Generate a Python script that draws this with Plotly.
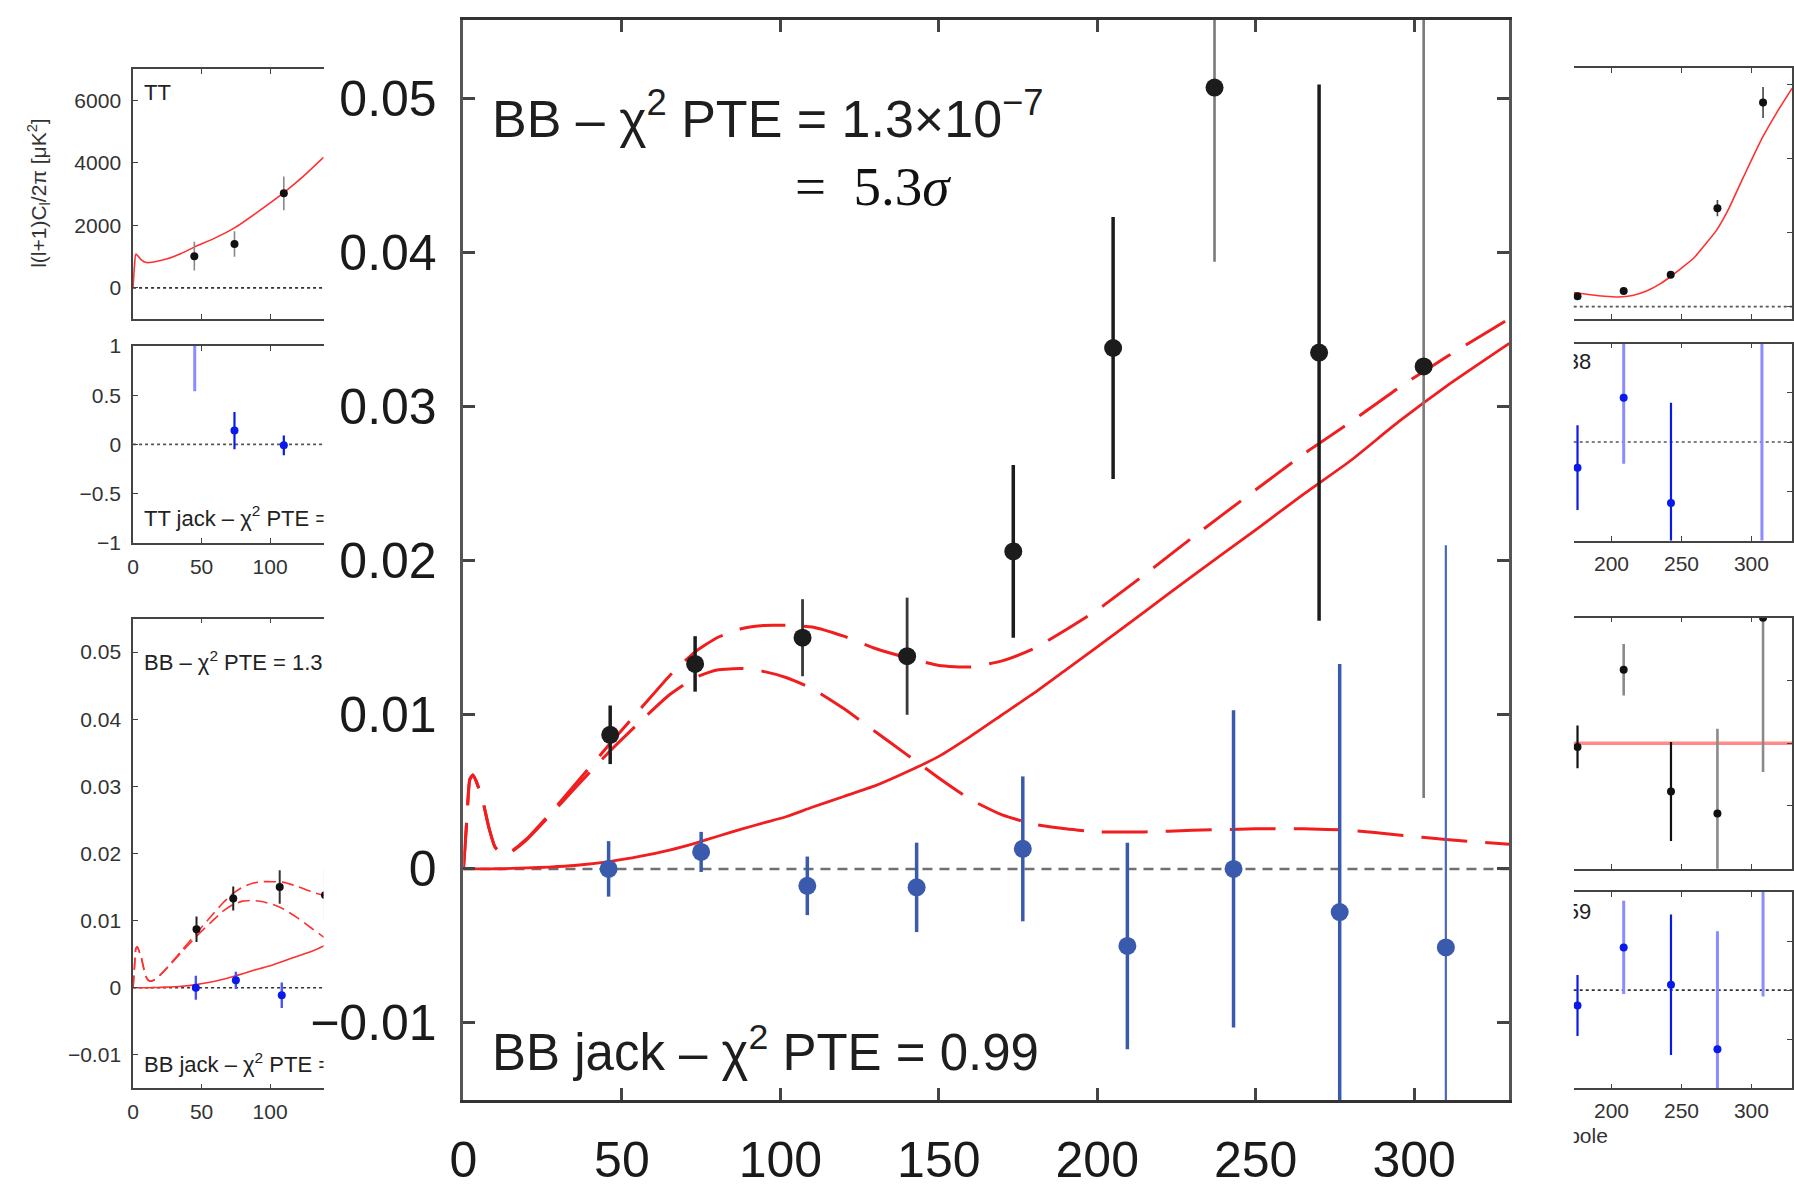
import plotly.graph_objects as go

W, H = 1794, 1188
SANS = "Liberation Sans, Arial, Helvetica, sans-serif"
SERIF = "Liberation Serif, DejaVu Serif, serif"

# ---------------- BB bandpowers (main panel and small BB panel) ----------------
bb_ell = [46.3, 73.1, 107.0, 140.0, 173.5, 205.0, 237.0, 270.0, 303.0]
bb_val = [0.0087, 0.0133, 0.0150, 0.0138, 0.0206, 0.0338, 0.0507, 0.0335, 0.0326]
bb_err = [0.0019, 0.0018, 0.0025, 0.0038, 0.0056, 0.0085, 0.0113, 0.0174, 0.0280]
bb_shade = ["dark", "dark", "mid", "mid", "dark", "dark", "light", "dark", "light"]

bbj_ell = [45.8, 75.0, 108.5, 143.0, 176.5, 209.5, 243.0, 276.5, 310.0]
bbj_val = [0.0000, 0.0011, -0.0011, -0.0012, 0.0013, -0.0050, 0.0000, -0.0028, -0.0051]
bbj_err = [0.0018, 0.0013, 0.0019, 0.0029, 0.0047, 0.0067, 0.0103, 0.0161, 0.0261]
bbj_shade = ["dark", "dark", "dark", "dark", "dark", "dark", "dark", "dark", "light"]

# ---------------- BB model spectra ----------------
model_ell = [0, 1, 2, 3, 4, 6, 8, 10, 12, 15, 20, 27, 35, 46, 56, 65, 73, 80, 88, 95,
             102, 110, 120, 130, 140, 150, 160, 170, 180, 190, 200, 215, 230, 250,
             265, 280, 295, 310, 330]
lensing_bb = [0, 0, 0, 0, 0, 0, 0, 0.00001, 0.00001, 0.00003, 0.00006, 0.00012, 0.00022,
              0.00047, 0.00082, 0.00122, 0.00166, 0.0021, 0.0026, 0.0030, 0.0034, 0.0040,
              0.0047, 0.0054, 0.0063, 0.0073, 0.0086, 0.0100, 0.0114, 0.0129, 0.0144,
              0.0167, 0.0190, 0.0220, 0.0243, 0.0265, 0.0290, 0.0313, 0.0341]
tensor_bb = [0, 0.0030, 0.0058, 0.0061, 0.0057, 0.0045, 0.0027, 0.0014, 0.0010, 0.0011,
             0.0019, 0.0034, 0.0052, 0.0076, 0.0096, 0.0113, 0.0124, 0.0129, 0.0130, 0.0128,
             0.0124, 0.0117, 0.0104, 0.0089, 0.0074, 0.0059, 0.0045, 0.0035, 0.0029, 0.0026,
             0.0024, 0.0024, 0.0025, 0.0026, 0.0026, 0.0025, 0.0022, 0.0019, 0.0016]
total_bb = [0, 0.0030, 0.0058, 0.0061, 0.0057, 0.0045, 0.0027, 0.00141, 0.00101, 0.00113,
            0.00196, 0.00352, 0.00542, 0.00807, 0.01042, 0.01252, 0.01406, 0.0150, 0.0156,
            0.0158, 0.0158, 0.0157, 0.0151, 0.0143, 0.0137, 0.0132, 0.0131, 0.0135, 0.0143,
            0.0155, 0.0168, 0.0191, 0.0215, 0.0246, 0.0269, 0.0290, 0.0312, 0.0332, 0.0357]

# ---------------- TT panel ----------------
tt_ell = [44.7, 74.0, 110.0]
tt_val = [1015, 1406, 3027]
tt_err = [460, 410, 540]
tt_model_ell = [0, 1, 2, 4, 6, 9.7, 15, 25, 35, 44.7, 60, 74, 90, 110, 125, 139]
tt_model = [0, 700, 1080, 1000, 900, 812, 830, 930, 1100, 1305, 1600, 1920, 2400, 3046, 3600, 4175]

ttj_ell = [45.0, 74.0, 110.0]
ttj_val = [1.40, 0.14, -0.01]
ttj_err = [0.86, 0.19, 0.10]
ttj_shade = ["light", "dark", "dark"]

# ---------------- EE panel ----------------
ee_ell = [175.7, 208.7, 242.3, 275.7, 308.3]
ee_val = [0.14, 0.21, 0.43, 1.33, 2.76]
ee_err = [0.03, 0.03, 0.04, 0.11, 0.21]
ee_model_ell = [173, 185, 195, 205, 215, 225, 235, 242.5, 250, 259, 267, 275, 284, 292,
                300, 308, 318, 329]
ee_model = [0.19, 0.16, 0.14, 0.13, 0.15, 0.21, 0.31, 0.41, 0.52, 0.66, 0.84, 1.03, 1.33,
            1.66, 1.98, 2.29, 2.62, 2.95]

eej_ell = [175.7, 208.7, 242.5, 307.5]
eej_val = [-0.26, 0.45, -0.62, -1.60]
eej_err = [0.43, 0.67, 1.02, 3.00]
eej_shade = ["dark", "light", "dark", "light"]

# ---------------- TB panel ----------------
tb_ell = [175.7, 208.7, 242.5, 275.7, 308.3]
tb_val = [-0.06, 1.17, -0.77, -1.12, 2.00]
tb_err = [0.34, 0.41, 0.79, 1.35, 2.46]
tb_shade = ["dark", "light", "dark", "light", "light"]

ebj_ell = [175.7, 208.7, 242.5, 275.7, 308.3]
ebj_val = [-0.156, 0.435, 0.055, -0.60, 1.60]
ebj_err = [0.31, 0.475, 0.715, 1.20, 1.665]
ebj_shade = ["dark", "light", "dark", "light", "light"]

RED = "#f01e1e"
RED_SMALL = "#ff3030"

fig = go.Figure()


def dom_x(a, b):
    return [a / W, b / W]


def dom_y(top, bottom):
    return [1 - bottom / H, 1 - top / H]


def add_points(xa, ya, ell, val, err, shade, styles, size):
    """One trace per shade so each group keeps its own error-bar colour and width."""
    for key, (mcol, bcol, thick) in styles.items():
        idx = [i for i, s in enumerate(shade) if s == key]
        if not idx:
            continue
        fig.add_trace(go.Scatter(
            x=[ell[i] for i in idx], y=[val[i] for i in idx], mode="markers",
            marker=dict(color=mcol, size=size, line=dict(width=0)),
            error_y=dict(type="data", array=[err[i] for i in idx], color=bcol,
                         thickness=thick, width=0),
            xaxis=xa, yaxis=ya, showlegend=False, cliponaxis=True, hoverinfo="skip"))


def add_curve(xa, ya, ell, val, color, width, dash="solid"):
    fig.add_trace(go.Scatter(
        x=ell, y=val, mode="lines",
        line=dict(color=color, width=width, dash=dash, shape="spline", smoothing=0.5),
        xaxis=xa, yaxis=ya, showlegend=False, cliponaxis=True, hoverinfo="skip"))


def add_text(xa, ya, x, y, text, size, pos="middle right", family=SANS, color="#222"):
    fig.add_trace(go.Scatter(
        x=[x], y=[y], mode="text", text=[text], textposition=pos,
        textfont=dict(family=family, size=size, color=color),
        xaxis=xa, yaxis=ya, showlegend=False, cliponaxis=True, hoverinfo="skip"))


def zero_line(xa, ya, color, width, dash):
    fig.add_shape(type="line", xref=f"{xa} domain", yref=ya, x0=0, x1=1, y0=0, y1=0,
                  line=dict(color=color, width=width, dash=dash), layer="below")


SMALL_TXT = 22

# ---------------- main BB panel ----------------
zero_line("x", "y", "#707070", 2.5, "10px,7px")
add_curve("x", "y", model_ell, lensing_bb, RED, 2.8)
add_curve("x", "y", model_ell, tensor_bb, RED, 3.0, "46px,18px")
add_curve("x", "y", model_ell, total_bb, RED, 3.0, "46px,18px")
add_points("x", "y", bb_ell, bb_val, bb_err, bb_shade,
           {"dark": ("#1c1c1c", "#1c1c1c", 3.5),
            "mid": ("#1c1c1c", "#3a3a3a", 2.8),
            "light": ("#1c1c1c", "#7a7a7a", 2.6)}, 18)
add_points("x", "y", bbj_ell, bbj_val, bbj_err, bbj_shade,
           {"dark": ("#3a5aae", "#3a5aae", 3.5),
            "light": ("#3a5aae", "#4a68b8", 2.2)}, 18)

# ---------------- small TT panel ----------------
zero_line("x2", "y2", "#333", 1.6, "3px,3px")
add_curve("x2", "y2", tt_model_ell, tt_model, RED_SMALL, 1.6)
add_points("x2", "y2", tt_ell, tt_val, tt_err, ["dark"] * 3,
           {"dark": ("#111", "#888", 1.6)}, 8)
add_text("x2", "y2", 8.0, 6194, "TT", SMALL_TXT)

# ---------------- small TT jack panel ----------------
zero_line("x3", "y3", "#555", 1.6, "3px,3px")
add_points("x3", "y3", ttj_ell, ttj_val, ttj_err, ttj_shade,
           {"dark": ("#0a1ae8", "#0a1ae8", 2.2), "light": ("#0a1ae8", "#8a8cff", 3.0)}, 8)
add_text("x3", "y3", 8.0, -0.77, "TT jack – χ<sup>2</sup> PTE = 0.65", SMALL_TXT)

# ---------------- small BB panel ----------------
zero_line("x4", "y4", "#333", 1.6, "3px,3px")
add_curve("x4", "y4", model_ell, lensing_bb, RED_SMALL, 1.6)
add_curve("x4", "y4", model_ell, tensor_bb, RED_SMALL, 1.6, "12px,6px")
add_curve("x4", "y4", model_ell, total_bb, RED_SMALL, 1.6, "12px,6px")
add_points("x4", "y4", bb_ell, bb_val, bb_err, bb_shade,
           {"dark": ("#111", "#222", 2.0), "mid": ("#111", "#333", 2.0),
            "light": ("#111", "#888", 2.0)}, 8)
add_points("x4", "y4", bbj_ell, bbj_val, bbj_err, bbj_shade,
           {"dark": ("#0a1ae8", "#4a55f0", 2.4), "light": ("#0a1ae8", "#8a8cff", 2.4)}, 8)
add_text("x4", "y4", 8.0, 0.0481, "BB – χ<sup>2</sup> PTE = 1.3×10<sup>−7</sup>", SMALL_TXT)
add_text("x4", "y4", 8.0, -0.0117, "BB jack – χ<sup>2</sup> PTE = 0.99", SMALL_TXT)

# ---------------- small EE panel (right) ----------------
zero_line("x5", "y5", "#555", 1.6, "3px,3px")
add_curve("x5", "y5", ee_model_ell, ee_model, RED_SMALL, 1.6)
add_points("x5", "y5", ee_ell, ee_val, ee_err, ["dark"] * 5,
           {"dark": ("#111", "#444", 1.6)}, 8)

zero_line("x6", "y6", "#555", 1.6, "3px,3px")
add_points("x6", "y6", eej_ell, eej_val, eej_err, eej_shade,
           {"dark": ("#0a1ae8", "#0a1ae8", 2.2), "light": ("#0a1ae8", "#8a8cff", 3.0)}, 8)
add_text("x6", "y6", 185.5, 0.80, "EE jack – χ<sup>2</sup> PTE = 0.38", SMALL_TXT, "middle left")

# ---------------- small TB panel (right) ----------------
zero_line("x7", "y7", "#ff8a8a", 3.5, "solid")
add_points("x7", "y7", tb_ell, tb_val, tb_err, tb_shade,
           {"dark": ("#111", "#111", 2.2), "light": ("#111", "#8a8a8a", 2.6)}, 8)

zero_line("x8", "y8", "#333", 1.6, "3px,3px")
add_points("x8", "y8", ebj_ell, ebj_val, ebj_err, ebj_shade,
           {"dark": ("#0a1ae8", "#0a1ae8", 2.2), "light": ("#0a1ae8", "#8a8cff", 3.0)}, 8)
add_text("x8", "y8", 185.5, 0.78, "EB jack – χ<sup>2</sup> PTE = 0.59", SMALL_TXT, "middle left")

# axis title of the right column, partly outside the visible strip
add_text("x9", "y9", 0.155, 0.5, "Multipole", 21, "middle left", color="#333")

# ---------------- axes ----------------
def ax(**kw):
    base = dict(showgrid=False, zeroline=False, showline=True, ticks="inside",
                fixedrange=True, linecolor="#444", tickcolor="#444")
    base.update(kw)
    return base


small_font = dict(family=SANS, size=21, color="#333")
big_font = dict(family=SANS, size=50, color="#1a1a1a")

layout = dict(
    width=W, height=H, margin=dict(l=0, r=0, t=0, b=0),
    paper_bgcolor="white", plot_bgcolor="white", showlegend=False,
    font=dict(family=SANS),
    # main panel
    xaxis=ax(domain=dom_x(453, 1507), range=[0, 330], anchor="y", mirror="ticks",
             tickvals=[0, 50, 100, 150, 200, 250, 300], tickfont=big_font,
             linewidth=2.6, linecolor="#333", tickwidth=2.6, ticklen=12,
             ticklabelstandoff=14),
    yaxis=ax(domain=dom_y(8, 1124), range=[-0.015, 0.0551], anchor="x", mirror="ticks",
             tickvals=[-0.01, 0, 0.01, 0.02, 0.03, 0.04, 0.05],
             ticktext=["−0.01", "0", "0.01", "0.02", "0.03", "0.04", "0.05"],
             tickfont=big_font, linewidth=2.6, linecolor="#555", tickwidth=2.6,
             ticklen=12, ticklabelstandoff=14),
    # left column
    xaxis2=ax(domain=dom_x(120, 312), range=[0, 139], anchor="y2", mirror="ticks",
              tickvals=[0, 50, 100], showticklabels=False, ticklen=5, linewidth=1.6),
    yaxis2=ax(domain=dom_y(59, 317.3), range=[-1000, 7000], anchor="x2",
              tickvals=[0, 2000, 4000, 6000], ticktext=["0", "2000", "4000", "6000"],
              tickfont=small_font, ticklen=5, linewidth=1.6, ticklabelstandoff=6),
    xaxis3=ax(domain=dom_x(120, 312), range=[0, 139], anchor="y3", mirror="ticks",
              tickvals=[0, 50, 100], ticktext=["0", "50", "100"], tickfont=small_font,
              ticklen=5, linewidth=1.6, ticklabelstandoff=4),
    yaxis3=ax(domain=dom_y(345, 548.3), range=[-1, 1], anchor="x3",
              tickvals=[-1, -0.5, 0, 0.5, 1], ticktext=["−1", "−0.5", "0", "0.5", "1"],
              tickfont=small_font, ticklen=5, linewidth=1.6, ticklabelstandoff=6),
    xaxis4=ax(domain=dom_x(120, 312), range=[0, 139], anchor="y4", mirror="ticks",
              tickvals=[0, 50, 100], ticktext=["0", "50", "100"], tickfont=small_font,
              ticklen=5, linewidth=1.6, ticklabelstandoff=4),
    yaxis4=ax(domain=dom_y(626.6, 1112), range=[-0.015, 0.055], anchor="x4",
              tickvals=[-0.01, 0, 0.01, 0.02, 0.03, 0.04, 0.05],
              ticktext=["−0.01", "0", "0.01", "0.02", "0.03", "0.04", "0.05"],
              tickfont=small_font, ticklen=5, linewidth=1.6, ticklabelstandoff=6),
    # right column
    xaxis5=ax(domain=dom_x(1572, 1792), range=[173, 329], anchor="y5", mirror="ticks",
              tickvals=[200, 250, 300], showticklabels=False, ticklen=5, linewidth=1.6),
    yaxis5=ax(domain=dom_y(58.3, 317.3), range=[-0.17, 3.22], anchor="x5", side="right",
              tickvals=[0, 1, 2, 3], showticklabels=False, ticklen=5, linewidth=1.6),
    xaxis6=ax(domain=dom_x(1572, 1792), range=[173, 329], anchor="y6", mirror="ticks",
              tickvals=[200, 250, 300], ticktext=["200", "250", "300"], tickfont=small_font,
              ticklen=5, linewidth=1.6, ticklabelstandoff=3),
    yaxis6=ax(domain=dom_y(342.5, 546), range=[-1, 1], anchor="x6", side="right",
              tickvals=[-0.5, 0, 0.5], showticklabels=False, ticklen=5, linewidth=1.6),
    xaxis7=ax(domain=dom_x(1572, 1792), range=[173, 329], anchor="y7", mirror="ticks",
              tickvals=[200, 250, 300], showticklabels=False, ticklen=5, linewidth=1.6),
    yaxis7=ax(domain=dom_y(625.7, 885), range=[-2, 2], anchor="x7", side="right",
              tickvals=[-1, 0, 1], showticklabels=False, ticklen=5, linewidth=1.6),
    xaxis8=ax(domain=dom_x(1572, 1792), range=[173, 329], anchor="y8", mirror="ticks",
              tickvals=[200, 250, 300], ticktext=["200", "250", "300"], tickfont=small_font,
              ticklen=5, linewidth=1.6, ticklabelstandoff=3),
    yaxis8=ax(domain=dom_y(909, 1112), range=[-1, 1], anchor="x8", side="right",
              tickvals=[-0.5, 0, 0.5], showticklabels=False, ticklen=5, linewidth=1.6),
    # strip holding the right-column axis title
    xaxis9=dict(domain=dom_x(1572, 1794), range=[0, 1], visible=False, anchor="y9",
                fixedrange=True),
    yaxis9=dict(domain=dom_y(1140, 1185), range=[0, 1], visible=False, anchor="x9",
                fixedrange=True),
)
fig.update_layout(**layout)

# panel annotations of the main BB panel
fig.add_annotation(xref="x", yref="y", x=8.5, y=0.0489, xanchor="left", yanchor="middle",
                   text="BB – χ<sup>2</sup> PTE = 1.3×10<sup>−7</sup>", showarrow=False,
                   font=dict(family=SANS, size=52, color="#1e1e1e"))
fig.add_annotation(xref="x", yref="y", x=104, y=0.0443, xanchor="left", yanchor="middle",
                   text="=\u00a0\u00a05.3<i>σ</i>", showarrow=False,
                   font=dict(family=SERIF, size=55, color="#111"))
fig.add_annotation(xref="x", yref="y", x=8.5, y=-0.0117, xanchor="left", yanchor="middle",
                   text="BB jack – χ<sup>2</sup> PTE = 0.99", showarrow=False,
                   font=dict(family=SANS, size=51, color="#1e1e1e"))
# y-axis title of the TT panel
fig.add_annotation(xref="paper", yref="paper", x=24 / W, y=1 - 187 / H,
                   xanchor="center", yanchor="middle", textangle=-90, showarrow=False,
                   text="l(l+1)C<sub>l</sub>/2π [μK<sup>2</sup>]",
                   font=dict(family=SANS, size=21, color="#333"))

fig.write_html("out.html")
